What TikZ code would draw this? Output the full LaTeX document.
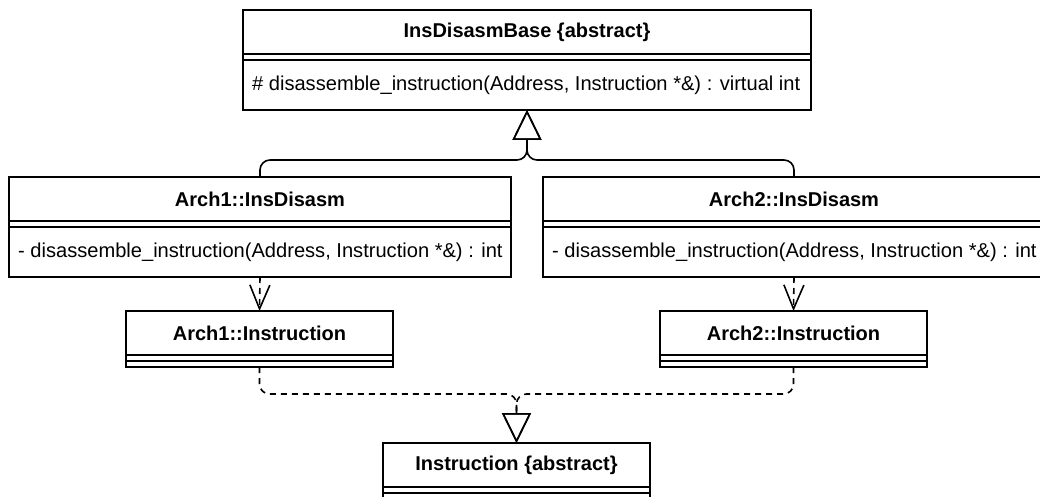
\documentclass[tikz,border=0pt]{standalone}
\usepackage{fontspec}
\setmainfont{Liberation Sans}
\usetikzlibrary{positioning,calc,arrows.meta}

\tikzset{
  cls/.style={draw, rectangle, inner sep=0pt, outer sep=0pt, anchor=north west},
  ttl/.style={font=\fontsize{20}{24}\selectfont\bfseries},
  mth/.style={font=\fontsize{20.1}{24}\selectfont, anchor=west},
  inherit/.style={rounded corners=10pt, -{Triangle[open, length=30pt, width=29pt]}},
  depend/.style={dash pattern=on 6pt off 5pt, -{Straight Barb[length=24pt, width=20pt]}},
  realize/.style={dash pattern=on 6pt off 5pt, rounded corners=10pt, -{Triangle[open, length=30pt, width=29pt]}}
}

\begin{document}
\begin{tikzpicture}[x=1pt, y=-1pt, line width=1.6pt]
  \useasboundingbox (0,0) rectangle (1040,497);

  % base class
  \node[cls, minimum width=568pt, minimum height=100pt] (base) at (243,10) {};
  \draw (base.north west) ++(0,44) -- ++(568,0);
  \draw (base.north west) ++(0,50) -- ++(568,0);
  \node[ttl] (base-t) at ($(base.north)+(0,22)$) {InsDisasmBase \{abstract\}};
  \node[mth] (base-m) at ($(base.north west)+(5,75)$) {\# disassemble\_instruction(Address, Instruction *\&) : virtual int};

  % arch disassemblers
  \node[cls, minimum width=502pt, minimum height=100pt] (dis1) at (9,177) {};
  \draw (dis1.north west) ++(0,44) -- ++(502,0);
  \draw (dis1.north west) ++(0,50) -- ++(502,0);
  \node[ttl] (dis1-t) at ($(dis1.north)+(0,22)$) {Arch1::InsDisasm};
  \node[mth] (dis1-m) at ($(dis1.north west)+(5,75)$) {- disassemble\_instruction(Address, Instruction *\&) : int};

  \node[cls, minimum width=502pt, minimum height=100pt] (dis2) at (543,177) {};
  \draw (dis2.north west) ++(0,44) -- ++(502,0);
  \draw (dis2.north west) ++(0,50) -- ++(502,0);
  \node[ttl] (dis2-t) at ($(dis2.north)+(0,22)$) {Arch2::InsDisasm};
  \node[mth] (dis2-m) at ($(dis2.north west)+(5,75)$) {- disassemble\_instruction(Address, Instruction *\&) : int};

  % instruction classes
  \node[cls, minimum width=267pt, minimum height=56pt] (ins1) at (126,311) {};
  \draw (ins1.north west) ++(0,44) -- ++(267,0);
  \draw (ins1.north west) ++(0,50) -- ++(267,0);
  \node[ttl] (ins1-t) at ($(ins1.north)+(0,22)$) {Arch1::Instruction};

  \node[cls, minimum width=267pt, minimum height=56pt] (ins2) at (660,311) {};
  \draw (ins2.north west) ++(0,44) -- ++(267,0);
  \draw (ins2.north west) ++(0,50) -- ++(267,0);
  \node[ttl] (ins2-t) at ($(ins2.north)+(0,22)$) {Arch2::Instruction};

  \node[cls, minimum width=267pt, minimum height=56pt] (ins) at (383,443) {};
  \draw (ins.north west) ++(0,44) -- ++(267,0);
  \draw (ins.north west) ++(0,50) -- ++(267,0);
  \node[ttl] (ins-t) at ($(ins.north)+(0,22)$) {Instruction \{abstract\}};

  % connectors
  \coordinate (up) at ($(base.south)+(0,50)$);
  \coordinate (down) at ($(ins.north)+(0,-49)$);
  \draw[inherit] (dis1.north) |- (up) -- (base.south);
  \draw[inherit] (dis2.north) |- (up) -- (base.south);
  \draw[depend] (dis1.south) -- (ins1.north);
  \draw[depend] (dis2.south) -- (ins2.north);
  \draw[realize] (ins1.south) |- (down) -- (ins.north);
  \draw[realize] (ins2.south) |- (down) -- (ins.north);
\end{tikzpicture}
\end{document}
